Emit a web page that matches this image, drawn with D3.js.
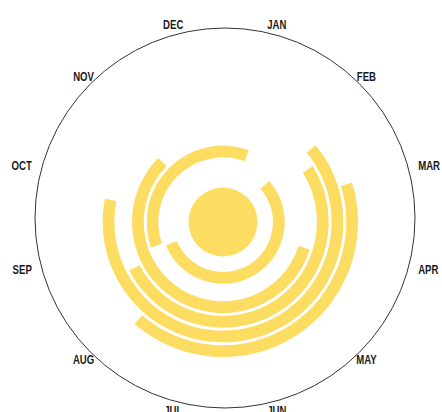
<!DOCTYPE html>
<html>
<head>
<meta charset="utf-8">
<script src="https://cdn.jsdelivr.net/npm/d3@7"></script>
<style>
    html, body { margin: 0; padding: 0; background: #fff; }
    svg { display: block; }
    .month {
        font-family: "Liberation Sans", Arial, sans-serif;
        font-weight: bold;
        font-size: 12px;
        fill: #1a1a1a;
    }
</style>
</head>
<body>
<div id="chart"></div>
<script>
/*globals d3 */
var months = ["JAN", "FEB", "MAR", "APR", "MAY", "JUN",
              "JUL", "AUG", "SEP", "OCT", "NOV", "DEC"];

// one ring per row, inner to outer; start/end as day of year (end > 365 wraps)
var rings = ["r1", "r2", "r3", "r4", "r5", "r6"];
var startDay = [49, 254, 109, 59, 51, 74];
var endDay = [251, 385, 319, 246, 285, 224];

(function () {
    'use strict';
    var width = 442,
        height = 412,
        frameX = 225,
        frameY = 218,
        frameR = 190,
        labelR = 200,
        cx = 223,
        cy = 222,
        sunR = 34.5,
        yellow = "#fddc62";

    var svg = d3.select("#chart").append("svg")
        .attr("width", width)
        .attr("height", height);

    var angle = d3.scaleLinear().domain([0, 365]).range([0, 2 * Math.PI]);

    var radius = d3.scaleBand()
        .domain(rings)
        .range([50, 135])
        .paddingInner(0.2);

    var data = rings.map(function (r, i) {
        return {ring: r, start: startDay[i], end: endDay[i]};
    });

    // outer frame
    svg.append("circle")
        .attr("cx", frameX)
        .attr("cy", frameY)
        .attr("r", frameR)
        .style("fill", "none")
        .style("stroke", "#333")
        .style("stroke-width", 1);

    // month labels, squeezed to look condensed
    var monthAngle = d3.scaleBand().domain(months).range([0, 2 * Math.PI]);
    function mid(d) { return monthAngle(d) + monthAngle.bandwidth() / 2; }

    svg.selectAll("g.month")
        .data(months)
        .enter()
        .append("g")
        .attr("transform", function (d) {
            var a = mid(d);
            return "translate(" + (frameX + labelR * Math.sin(a)) + "," +
                (frameY - labelR * Math.cos(a)) + ")";
        })
        .append("text")
        .attr("class", "month")
        .attr("transform", "scale(0.8,1)")
        .attr("dy", "0.35em")
        .attr("text-anchor", function (d) {
            var s = Math.sin(mid(d));
            if (s > 0.9) { return "start"; }
            if (s < -0.9) { return "end"; }
            return "middle";
        })
        .text(function (d) { return d; });

    var g = svg.append("g")
        .attr("transform", "translate(" + cx + "," + cy + ")");

    var arc = d3.arc()
        .innerRadius(function (d) { return radius(d.ring); })
        .outerRadius(function (d) { return radius(d.ring) + radius.bandwidth(); })
        .startAngle(function (d) { return angle(d.start); })
        .endAngle(function (d) { return angle(d.end); });

    g.selectAll("path.season")
        .data(data)
        .enter()
        .append("path")
        .attr("class", "season")
        .attr("d", arc)
        .style("fill", yellow);

    g.append("circle")
        .attr("r", sunR)
        .style("fill", yellow);
}());
</script>
</body>
</html>
